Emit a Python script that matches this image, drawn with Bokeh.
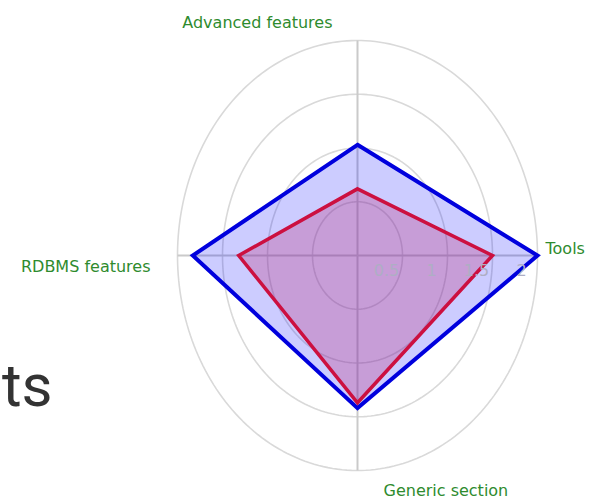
import numpy as np
from bokeh.plotting import figure
from bokeh.models import Range1d
from bokeh.embed import file_html
from bokeh.resources import INLINE
from bokeh.core.properties import value

# ---- data ----
axis_names = ["Advanced features", "Tools", "Generic section", "RDBMS features"]
axis_angles_deg = [90, 0, 270, 180]
ring_values = [0.5, 1.0, 1.5, 2.0]
ring_labels = ["0.5", "1", "1.5", "2"]
blue_values = [1.03, 2.0, 1.42, 1.83]
red_values = [0.62, 1.5, 1.37, 1.32]
background_text = "nts"

W, H = 589, 499
cx_px, cy_px = 357, 255          # centre of the radar in plot pixels
sx, sy = 90.0, 107.5             # pixels per unit (x, y)

p = figure(width=W, height=H, output_backend="svg", toolbar_location=None,
           x_range=Range1d(-cx_px / sx, (W - cx_px) / sx),
           y_range=Range1d(-(H - cy_px) / sy, cy_px / sy),
           x_axis_type=None, y_axis_type=None, min_border=0)
p.outline_line_color = None
p.grid.visible = False
p.background_fill_color = "white"
p.border_fill_color = "white"

ang = np.radians(axis_angles_deg)
rmax = max(ring_values)

# rings
t = np.linspace(0, 2 * np.pi, 240)
for r in ring_values:
    p.line(r * np.cos(t), r * np.sin(t), line_color="#d9d9d9", line_width=1.6)

# spokes
for a in ang:
    p.line([0, rmax * np.cos(a)], [0, rmax * np.sin(a)], line_color="#cacaca", line_width=2)

# series
bv = np.array(blue_values)
rv = np.array(red_values)
p.patch(list(bv * np.cos(ang)), list(bv * np.sin(ang)), fill_color="#0000ff", fill_alpha=0.2,
        line_color="#0000dd", line_width=4, line_join="miter")
p.patch(list(rv * np.cos(ang)), list(rv * np.sin(ang)), fill_color="#be337b", fill_alpha=0.3,
        line_color="#cc1040", line_width=3.5, line_join="miter")

# radial tick labels
p.text(x=ring_values, y=[0] * len(ring_values), text=ring_labels,
       text_font=value("DejaVu Sans"), text_font_size="16px", text_color="#aeaec4",
       text_align="center", text_baseline="middle", x_offset=-16, y_offset=14)

# axis labels
label_style = dict(text_font=value("DejaVu Sans"), text_font_size="16px",
                   text_color="#2e8b2e", text_baseline="middle")
offsets = [(-25, -18, "right"), (8, -7, "left"), (26, 20, "left"), (-27, 11, "right")]
for name, a, (xo, yo, al) in zip(axis_names, ang, offsets):
    p.text(x=[rmax * np.cos(a)], y=[rmax * np.sin(a)], text=[name],
           x_offset=xo, y_offset=yo, text_align=al, **label_style)

# large background slide text (partially cut off at left, as in the source)
p.text(x=[(52 - cx_px) / sx], y=[(cy_px - 385) / sy], text=[background_text],
       text_font=value("Roboto"), text_font_size="60px", text_color="#333333",
       text_align="right", text_baseline="alphabetic")

open("out.html", "w").write(file_html(p, INLINE))
